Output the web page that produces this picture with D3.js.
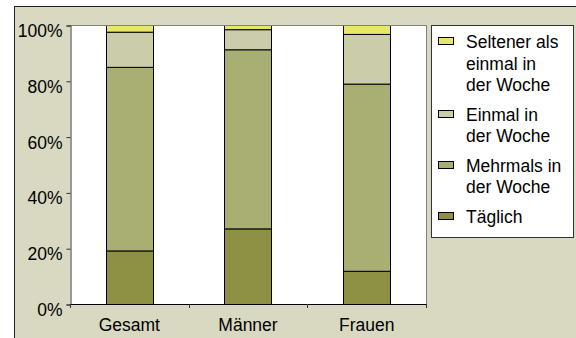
<!DOCTYPE html>
<html>
<head>
<meta charset="utf-8">
<script src="https://cdn.jsdelivr.net/npm/d3@7"></script>
<style>
  html, body { margin: 0; padding: 0; background: #ffffff; }
  svg { display: block; }
  text { font-family: "Liberation Sans", Arial, sans-serif; fill: #000; }
</style>
</head>
<body>
<svg id="chart" width="576" height="338"></svg>
<script>
// ---- data ----
const categories = ["Gesamt", "Männer", "Frauen"];
const taeglich   = [19.2, 27.1, 11.9];
const mehrmals   = [65.8, 64.2, 67.1];
const einmal     = [12.6, 7.2, 17.8];
const seltener   = [2.4, 1.5, 3.2];
const seriesNames = ["Täglich", "Mehrmals in der Woche", "Einmal in der Woche", "Seltener als einmal in der Woche"];
const legendLines = [["Seltener als", "einmal in", "der Woche"], ["Einmal in", "der Woche"], ["Mehrmals in", "der Woche"], ["Täglich"]];
const yTicks = [0, 0.2, 0.4, 0.6, 0.8, 1.0];

const colors = ["#8e9144", "#a9ae72", "#cbcca9", "#e6e667"];

const seriesValues = [taeglich, mehrmals, einmal, seltener];
const rows = categories.map((c, i) => {
  const r = { cat: c };
  seriesNames.forEach((s, k) => r[s] = seriesValues[k][i]);
  return r;
});
const stack = d3.stack().keys(seriesNames).offset(d3.stackOffsetExpand);
const stacked = stack(rows);

const svg = d3.select("#chart");
const W = 576, H = 338;
const plot = { left: 70, right: 426, top: 25, bottom: 304 };
const fontSize = 17.5;

// outer chart frame
svg.append("rect")
  .attr("x", 14.5).attr("y", 6.5)
  .attr("width", W + 10).attr("height", H + 10)
  .attr("fill", "#d8d9c0").attr("stroke", "#222").attr("stroke-width", 1);

// plot area
svg.append("rect")
  .attr("x", plot.left).attr("y", plot.top)
  .attr("width", plot.right - plot.left).attr("height", plot.bottom - plot.top)
  .attr("fill", "#ffffff");

const x = d3.scaleBand().domain(categories)
  .range([plot.left, plot.right]).paddingInner(0.6).paddingOuter(0.3);
const y = d3.scaleLinear().domain([0, 1]).range([plot.bottom, plot.top]);

// bars
svg.append("g").selectAll("g").data(stacked).join("g")
  .attr("fill", (d, i) => colors[i])
  .selectAll("rect").data(d => d).join("rect")
  .attr("x", d => Math.round(x(d.data.cat)) + 0.5)
  .attr("width", Math.round(x.bandwidth()))
  .attr("y", d => y(d[1]) + 0.5)
  .attr("height", d => y(d[0]) - y(d[1]))
  .attr("stroke", "#000").attr("stroke-width", 1);

// plot area border: top and right grey
svg.append("path")
  .attr("d", `M${plot.left},${plot.top + 0.5}H${plot.right + 0.5}V${plot.bottom}`)
  .attr("fill", "none").attr("stroke", "#808080").attr("stroke-width", 1);

// y axis
const yAxis = d3.axisLeft(y).tickValues(yTicks).tickFormat(d3.format(".0%")).tickSize(4).tickPadding(4);
const gy = svg.append("g").attr("transform", `translate(${plot.left + 0.5},0.5)`).call(yAxis);
gy.select(".domain").attr("stroke", "#333");
gy.selectAll(".tick line").attr("stroke", "#333");
gy.selectAll(".tick text")
  .attr("dy", null).attr("y", 11)
  .style("font-size", fontSize + "px")
  .attr("font-family", null)
  .style("font-family", '"Liberation Sans", Arial, sans-serif');

// x axis line
svg.append("line")
  .attr("x1", plot.left).attr("x2", plot.right + 1)
  .attr("y1", plot.bottom + 0.5).attr("y2", plot.bottom + 0.5)
  .attr("stroke", "#000");

// x boundary ticks
const bounds = d3.range(categories.length + 1).map(i => plot.left + i * x.step());
svg.append("g").selectAll("line").data(bounds).join("line")
  .attr("x1", d => Math.round(d) + 0.5).attr("x2", d => Math.round(d) + 0.5)
  .attr("y1", plot.bottom).attr("y2", plot.bottom + 4)
  .attr("stroke", "#333");

// x labels
svg.append("g").selectAll("text").data(categories).join("text")
  .attr("x", d => x(d) + x.bandwidth() / 2)
  .attr("y", 331)
  .attr("text-anchor", "middle")
  .style("font-size", fontSize + "px")
  .text(d => d);

// legend
const lg = svg.append("g");
lg.append("rect")
  .attr("x", 431.5).attr("y", 25.5).attr("width", 142).attr("height", 212)
  .attr("fill", "#ffffff").attr("stroke", "#333").attr("stroke-width", 1);

const lineH = 21.5, entryGap = 29.5;
let base = 48.3;
legendLines.forEach((lines, i) => {
  const seriesIdx = seriesNames.length - 1 - i;
  lg.append("rect")
    .attr("x", 438.5).attr("y", Math.round(base - 11) + 0.5)
    .attr("width", 15).attr("height", 7)
    .attr("fill", colors[seriesIdx]).attr("stroke", "#000");
  lines.forEach((t, j) => {
    lg.append("text")
      .attr("x", 466).attr("y", base + j * lineH)
      .style("font-size", fontSize + "px")
      .text(t);
  });
  base += (lines.length - 1) * lineH + entryGap;
});
</script>
</body>
</html>
